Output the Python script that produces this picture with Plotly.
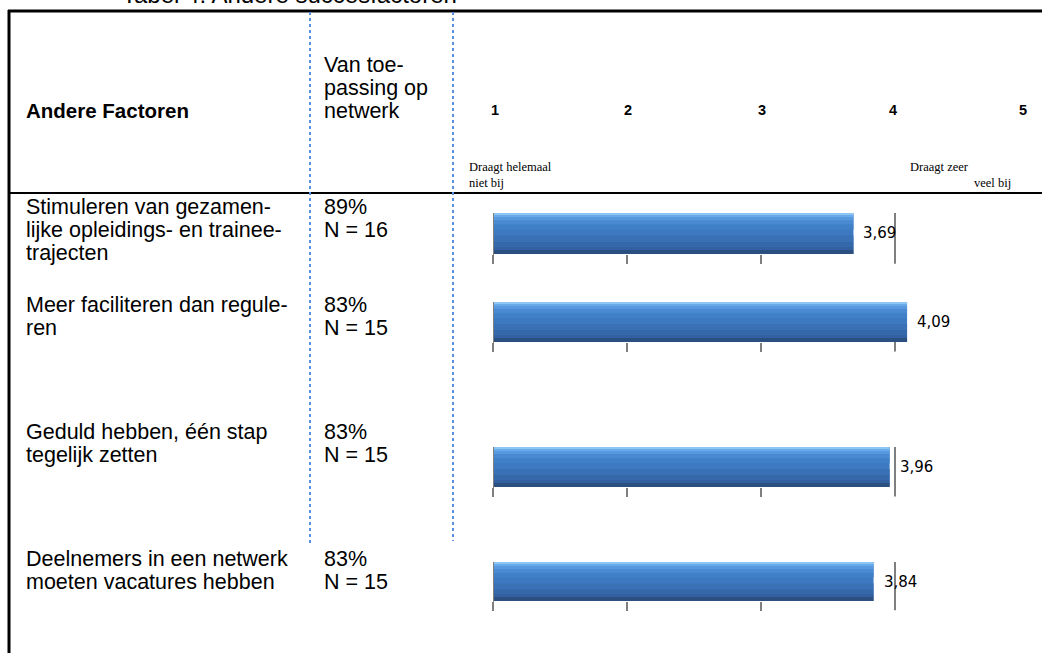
import plotly.graph_objects as go

W, H = 1042, 653

# ---- data ----
factors = [
    ["Stimuleren van gezamen-", "lijke opleidings- en trainee-", "trajecten"],
    ["Meer faciliteren dan regule-", "ren"],
    ["Geduld hebben, één stap", "tegelijk zetten"],
    ["Deelnemers in een netwerk", "moeten vacatures hebben"],
]
percentages = ["89%", "83%", "83%", "83%"]
n_values = [16, 15, 15, 15]
scores = [3.69, 4.09, 3.96, 3.84]
scale_labels = ["1", "2", "3", "4", "5"]
scale_values = [1, 2, 3, 4, 5]

# ---- layout helpers (pixel -> paper) ----
def px(x):
    return x / W

def py(y):
    return 1 - y / H

row_text_y = [207, 305, 432, 559]       # first line of each row (px)
line_step = 23
bar_px = [(213, 254), (302, 342), (447, 487), (562, 601)]

fig = go.Figure()
layout = dict(
    width=W, height=H, margin=dict(l=0, r=0, t=0, b=0),
    paper_bgcolor="white", plot_bgcolor="rgba(0,0,0,0)",
    barmode="overlay", showlegend=False,
    font=dict(family="Liberation Sans, Arial", color="black"),
)

bands = [
    (-0.5, 1.0, "#3D79C0"),
    (-0.5, 0.10, "#2B5080"),
    (-0.40, 0.08, "#3260A0"),
    (-0.32, 0.12, "#3568A8"),
    (-0.20, 0.15, "#3A71B6"),
    (0.10, 0.12, "#4080C8"),
    (0.22, 0.10, "#4A8AD2"),
    (0.32, 0.08, "#5799DE"),
    (0.40, 0.05, "#6AAAE8"),
    (0.45, 0.05, "#8DC6F5"),
]

shapes = []
annotations = []

for i, (val, (top, bot)) in enumerate(zip(scores, bar_px)):
    k = i + 1
    xa = "x" if k == 1 else f"x{k}"
    ya = "y" if k == 1 else f"y{k}"
    for off, w, c in bands:
        fig.add_trace(go.Bar(
            orientation="h", y=[0], x=[val - scale_values[0]], base=[scale_values[0]],
            width=[w], offset=[off], marker=dict(color=c, line=dict(width=0)),
            xaxis=xa, yaxis=ya, hoverinfo="skip",
        ))
    layout["xaxis" if k == 1 else f"xaxis{k}"] = dict(
        domain=[px(493), px(1029)], range=[scale_values[0], scale_values[-1]],
        anchor=ya, tickvals=scale_values[:3], ticks="outside", ticklen=9,
        tickwidth=2, tickcolor="#7f7f7f", showticklabels=False,
        showgrid=False, zeroline=False, showline=False, fixedrange=True,
    )
    layout["yaxis" if k == 1 else f"yaxis{k}"] = dict(
        domain=[py(bot), py(top)], range=[-0.5, 0.5], anchor=xa,
        visible=False, fixedrange=True,
    )
    shapes.append(dict(type="line", xref=xa, yref=f"{ya} domain",
                       x0=scale_values[3], x1=scale_values[3], y0=-0.24, y1=1.0,
                       line=dict(color="#7f7f7f", width=2), layer="below"))
    shapes.append(dict(type="line", xref=xa, yref=f"{ya} domain",
                       x0=scale_values[0], x1=scale_values[0], y0=-0.24, y1=1.0,
                       line=dict(color="#7f7f7f", width=2), layer="above"))
    annotations.append(dict(
        x=val, y=0, xref=xa, yref=ya, xanchor="left", yanchor="middle",
        xshift=8, text=f"{val:.2f}".replace(".", ","), showarrow=False,
        font=dict(family="DejaVu Sans", size=15, color="black"),
    ))

# ---- table lines ----
shapes += [
    dict(type="line", xref="paper", yref="paper", x0=px(9), x1=px(9), y0=py(10), y1=0,
         line=dict(color="black", width=3)),
    dict(type="line", xref="paper", yref="paper", x0=px(8), x1=1, y0=py(11), y1=py(11),
         line=dict(color="black", width=3)),
    dict(type="line", xref="paper", yref="paper", x0=px(8), x1=1, y0=py(193), y1=py(193),
         line=dict(color="black", width=2)),
    dict(type="line", xref="paper", yref="paper", x0=px(310), x1=px(310), y0=py(12), y1=py(545),
         line=dict(color="#5B8FE0", width=2, dash="dot")),
    dict(type="line", xref="paper", yref="paper", x0=px(453), x1=px(453), y0=py(12), y1=py(541),
         line=dict(color="#5B8FE0", width=2, dash="dot")),
]

BODY = 21.5

def txt(x, y, s, size=BODY, anchor="left", bold=False, family="Liberation Sans, Arial", color="black"):
    annotations.append(dict(
        x=px(x), y=py(y), xref="paper", yref="paper", xanchor=anchor, yanchor="middle",
        text=f"<b>{s}</b>" if bold else s, showarrow=False,
        font=dict(family=family, size=size, color=color),
    ))

# title (cut off at top)
annotations.append(dict(
    x=px(120), y=1, xref="paper", yref="paper", xanchor="left", yanchor="middle",
    yshift=6, text="Tabel 4: Andere succesfactoren", showarrow=False,
    font=dict(family="Liberation Sans, Arial", size=24, color="black"),
))

# header
txt(24, 111, "Andere Factoren", bold=True, size=20.5)
for j, s in enumerate(["Van toe-", "passing op", "netwerk"]):
    txt(322, 65 + j * line_step, s)
scale_px = [495, 628, 762, 893, 1023]
for s, xx in zip(scale_labels, scale_px):
    txt(xx, 110, s, size=14.5, anchor="center", bold=True)
SERIF = "Liberation Serif, Times New Roman"
txt(467, 167, "Draagt helemaal", size=12.5, family=SERIF)
txt(467, 183, "niet bij", size=12.5, family=SERIF)
txt(908, 167, "Draagt zeer", size=12.5, family=SERIF)
txt(1013, 183, "veel bij", size=12.5, anchor="right", family=SERIF)

# rows
for i, lines in enumerate(factors):
    for j, s in enumerate(lines):
        txt(24, row_text_y[i] + j * line_step, s)
    txt(322, row_text_y[i], percentages[i])
    txt(322, row_text_y[i] + line_step, f"N = {n_values[i]}")

layout["shapes"] = shapes
layout["annotations"] = annotations
fig.update_layout(**layout)
fig.write_html(
    "out.html",
    config={"displayModeBar": False, "staticPlot": True},
    post_script="document.body.style.margin='0px';document.body.style.overflow='hidden';",
)
